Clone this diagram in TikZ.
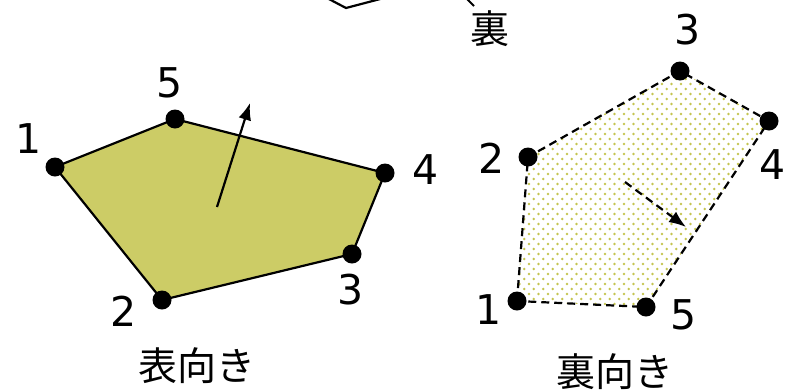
\documentclass[tikz,border=0pt]{standalone}
\usepackage{fontspec}
\setmainfont{DejaVu Sans}
\newfontfamily\cjk{Noto Sans CJK JP}
\usetikzlibrary{arrows.meta}
\definecolor{olivefill}{RGB}{204,204,102}
\definecolor{olivedot}{RGB}{196,196,80}
\tikzset{
  vdot/.style={circle,fill=black,inner sep=0pt,minimum size=19pt},
  numlbl/.style={inner sep=0pt,font=\fontsize{41}{41}\selectfont},
  jplbl/.style={inner sep=0pt,font=\cjk\fontsize{39}{39}\selectfont},
  edge/.style={line width=2.2pt,line join=round},
  dashedge/.style={line width=2.2pt,dash pattern=on 8pt off 5pt},
  normal/.style={line width=2.2pt,-{Latex[length=17pt,width=13pt]}},
  patdot/.style={fill=olivedot},
}
\begin{document}
\begin{tikzpicture}[x=1pt,y=-1pt]
\useasboundingbox (0,0) rectangle (792,389);
% top partial figure
\coordinate (t1) at (327,-2);
\coordinate (t2) at (346,8);
\coordinate (t3) at (384,-2);
\draw[edge] (t1) -- (t2) -- (t3);
\coordinate (s1) at (467,-1);
\coordinate (s2) at (474,6);
\draw[line width=2pt] (s1) -- (s2);
\node[jplbl] (ura) at (490,29) {裏};
% left polygon (front)
\coordinate (a1) at (55,167);
\coordinate (a2) at (162,300);
\coordinate (a3) at (352,254);
\coordinate (a4) at (385,173);
\coordinate (a5) at (175,119);
\draw[edge,fill=olivefill] (a1) -- (a2) -- (a3) -- (a4) -- (a5) -- cycle;
\foreach \i in {1,...,5} \node[vdot] (A\i) at (a\i) {};
\node[numlbl] (la1) at (29,139) {1};
\node[numlbl] (la2) at (124,311) {2};
\node[numlbl] (la3) at (351,290) {3};
\node[numlbl] (la4) at (426,170) {4};
\node[numlbl] (la5) at (170,83) {5};
\coordinate (n1) at (217,207);
\coordinate (n2) at (250,103);
\draw[normal] (n1) -- (n2);
\node[jplbl] (omote) at (197,366) {表向き};
% right polygon (back)
\coordinate (b1) at (517,301);
\coordinate (b2) at (528,157);
\coordinate (b3) at (680,71);
\coordinate (b4) at (769,121);
\coordinate (b5) at (646,307);
\begin{scope}
\clip (b1) -- (b2) -- (b3) -- (b4) -- (b5) -- cycle;
\foreach \r in {0,...,50} {
  \pgfmathsetmacro{\yy}{64+5*\r}
  \pgfmathsetmacro{\xo}{mod(\r,2)*4.75}
  \foreach \c in {0,...,28} {
    \fill[patdot] ({510+\xo+9.5*\c},\yy) circle (1.3pt);
  }
}
\end{scope}
\draw[dashedge] (b1) -- (b2) -- (b3) -- (b4) -- (b5) -- cycle;
\foreach \i in {1,...,5} \node[vdot] (B\i) at (b\i) {};
\node[numlbl] (lb1) at (489,310) {1};
\node[numlbl] (lb2) at (492,158) {2};
\node[numlbl] (lb3) at (688,30) {3};
\node[numlbl] (lb4) at (773,165) {4};
\node[numlbl] (lb5) at (684,315) {5};
\coordinate (m1) at (625,182);
\coordinate (m2) at (686,227);
\draw[normal,dash pattern=on 8pt off 5pt] (m1) -- (m2);
\node[jplbl] (uramuki) at (615,372) {裏向き};
\end{tikzpicture}
\end{document}
